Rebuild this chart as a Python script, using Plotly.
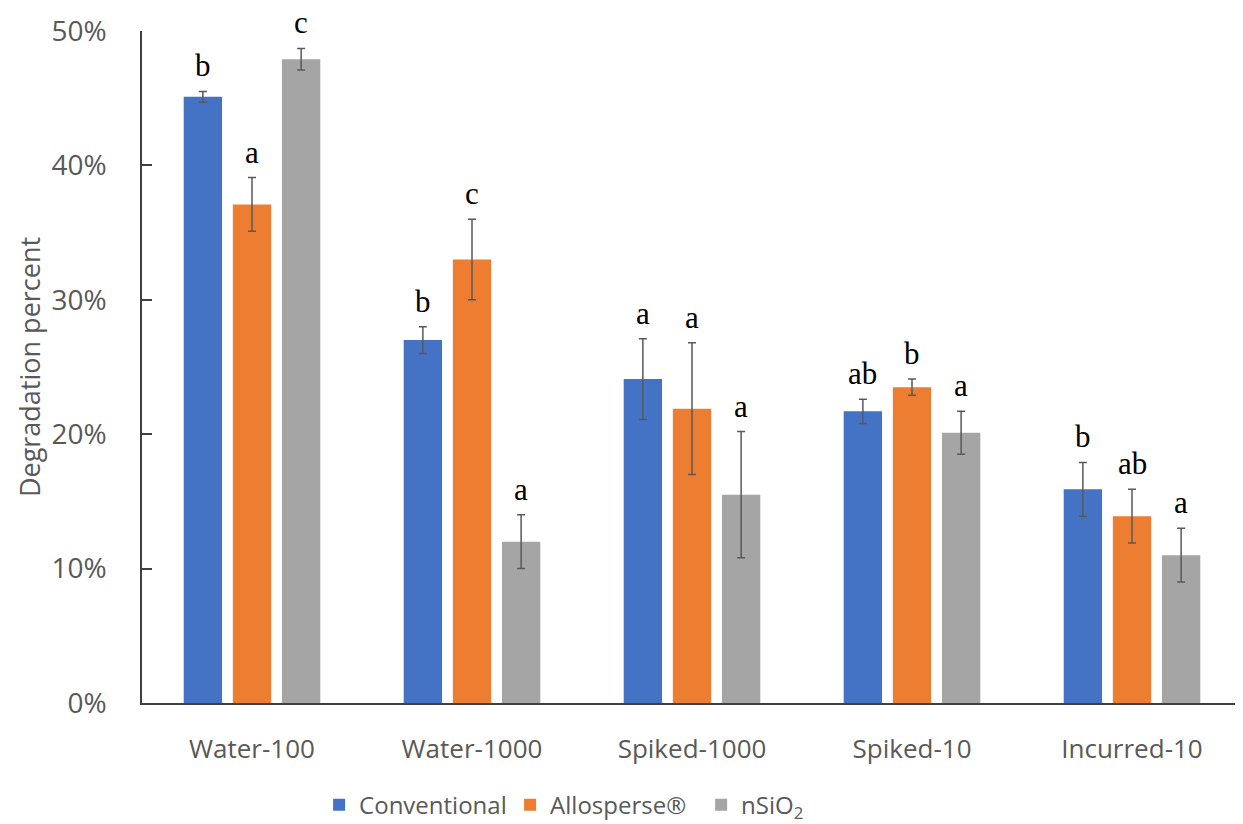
import plotly.graph_objects as go

categories = ["Water-100", "Water-1000", "Spiked-1000", "Spiked-10", "Incurred-10"]
series_names = ["Conventional", "Allosperse®", "nSiO<sub>2</sub>"]
conventional = [0.451, 0.270, 0.241, 0.217, 0.159]
allosperse = [0.371, 0.330, 0.219, 0.235, 0.139]
nsio2 = [0.479, 0.120, 0.155, 0.201, 0.110]
conventional_err = [0.004, 0.010, 0.030, 0.009, 0.020]
allosperse_err = [0.020, 0.030, 0.049, 0.006, 0.020]
nsio2_err = [0.008, 0.020, 0.047, 0.016, 0.020]
conventional_letters = ["b", "b", "a", "ab", "b"]
allosperse_letters = ["a", "c", "a", "b", "ab"]
nsio2_letters = ["c", "a", "a", "a", "a"]
y_ticks = [0, 0.1, 0.2, 0.3, 0.4, 0.5]

colors = ["#4472C4", "#ED7D31", "#A5A5A5"]
values = [conventional, allosperse, nsio2]
errors = [conventional_err, allosperse_err, nsio2_err]
letters = [conventional_letters, allosperse_letters, nsio2_letters]

bargap = 0.33
fig = go.Figure()
for name, vals, errs, col in zip(series_names, values, errors, colors):
    fig.add_trace(go.Bar(
        x=categories, y=vals, name=name, marker=dict(color=col, line=dict(width=0)),
        error_y=dict(type="data", array=errs, visible=True, color="#595959", thickness=1.5, width=4),
    ))

annotations = []
n = len(series_names)
for i in range(n):
    offset = (i - (n - 1) / 2) * (1 - bargap) / n
    for j, cat in enumerate(categories):
        annotations.append(dict(
            x=j + offset, y=values[i][j] + errors[i][j], xref="x", yref="y",
            text=letters[i][j], showarrow=False, yanchor="bottom", yshift=6,
            font=dict(family="Liberation Serif, Times New Roman, serif", size=31, color="#000000"),
        ))

fig.update_layout(
    width=1235, height=816,
    margin=dict(l=134, r=1, t=23, b=121, autoexpand=False),
    paper_bgcolor="white", plot_bgcolor="white",
    barmode="group", bargap=bargap, bargroupgap=0.22,
    font=dict(family="Open Sans, sans-serif", size=26, color="#595959"),
    showlegend=True,
    legend=dict(orientation="h", x=0.161, xanchor="left", yref="container", y=0.023, yanchor="middle",
                font=dict(size=24, color="#595959"), traceorder="normal", itemwidth=30,
                entrywidth=146, entrywidthmode="pixels"),
    annotations=annotations,
    xaxis=dict(showline=True, linecolor="#404040", linewidth=1.5, ticks="", showgrid=False,
               automargin=False, ticklabelstandoff=22,
               tickfont=dict(size=26, color="#595959")),
    yaxis=dict(range=[0, 0.5], tickvals=y_ticks, tickformat=".0%", showgrid=False, zeroline=False,
               showline=True, linecolor="#404040", linewidth=1.5, ticks="inside", ticklen=10,
               tickcolor="#404040", tickwidth=1.5, automargin=False, ticklabelstandoff=28,
               title=dict(text="Degradation percent", font=dict(size=27, color="#595959"), standoff=3),
               tickfont=dict(size=28, color="#595959")),
)
fig.write_html("out.html")
